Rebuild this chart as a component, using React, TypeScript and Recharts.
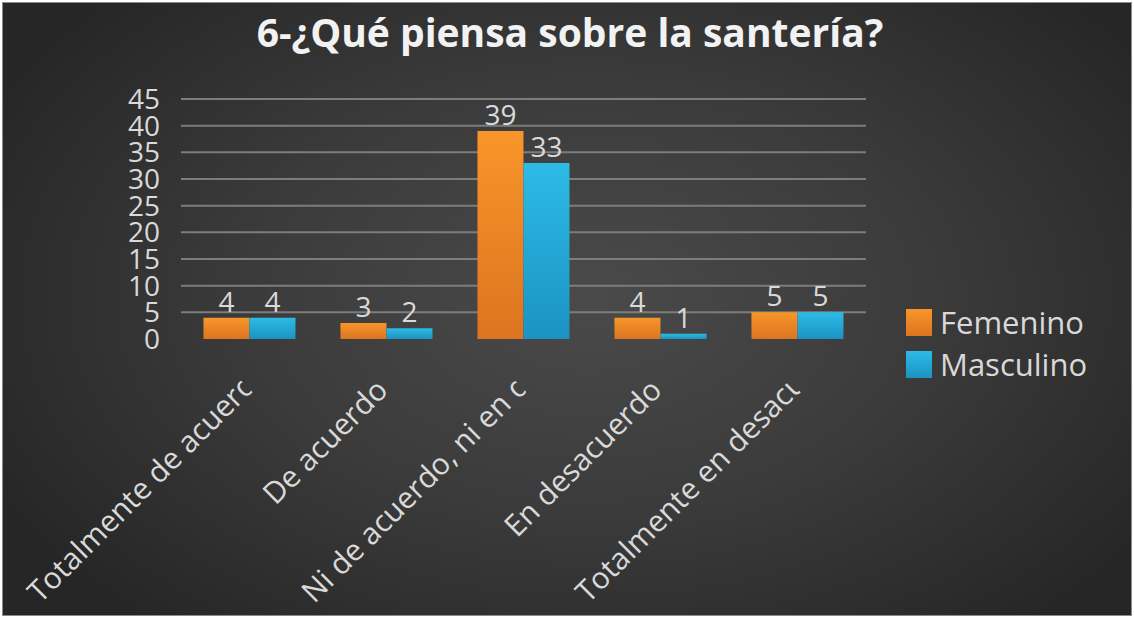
import { BarChart, Bar, XAxis, YAxis, CartesianGrid, LabelList } from "recharts";

const categories = [
  "Totalmente de acuerdo",
  "De acuerdo",
  "Ni de acuerdo, ni en desacuerdo",
  "En desacuerdo",
  "Totalmente en desacuerdo",
];
const femenino = [4, 3, 39, 4, 5];
const masculino = [4, 2, 33, 1, 5];
const yTicks = [0, 5, 10, 15, 20, 25, 30, 35, 40, 45];

const series = [
  { key: "femenino", name: "Femenino", top: "#f8962a", bottom: "#dc7420" },
  { key: "masculino", name: "Masculino", top: "#2dbbe6", bottom: "#1b93c2" },
];

const data = categories.map((c, i) => ({ name: c, femenino: femenino[i], masculino: masculino[i] }));

const FONT = '"Open Sans", "Noto Sans", sans-serif';
const TEXT = "#d9d9d9";
const FS = 28;
const XFS = 30;
const LABEL_MAX = 300; // longest the rotated category label may get before it is cut

let ctx: CanvasRenderingContext2D | null = null;
function textWidth(s: string) {
  if (!ctx) ctx = document.createElement("canvas").getContext("2d");
  if (!ctx) return s.length * XFS * 0.55;
  ctx.font = `${XFS}px "Open Sans"`;
  return ctx.measureText(s).width;
}

function CategoryTick(props: any) {
  const { x, y, payload, index } = props;
  const label = String(payload.value);
  const fits = textWidth(label) <= LABEL_MAX;
  const id = `xclip-${index}`;
  return (
    <g transform={`translate(${x + 3},${y + 45}) rotate(-45)`}>
      <defs>
        <clipPath id={id}>
          <rect x={-LABEL_MAX} y={-40} width={LABEL_MAX} height={60} />
        </clipPath>
      </defs>
      <text
        x={fits ? 0 : -LABEL_MAX}
        y={0}
        textAnchor={fits ? "end" : "start"}
        fill={TEXT}
        fontSize={XFS}
        fontFamily={FONT}
        clipPath={`url(#${id})`}
      >
        {label}
      </text>
    </g>
  );
}

export default function App() {
  return (
    <div style={{ position: "absolute", left: 0, top: 0, width: 1134, height: 618, background: "#ffffff" }}>
      <div
        style={{
          position: "absolute",
          left: 2,
          top: 2,
          width: 1128,
          height: 612,
          border: "1px solid #8a8a8a",
          background: "radial-gradient(ellipse 60% 70% at 52% 48%, #4a4a4a 0%, #3b3b3b 50%, #262626 100%)",
          overflow: "hidden",
        }}
      >
        <div
          style={{
            position: "absolute",
            left: 0,
            top: 2,
            width: 1134,
            textAlign: "center",
            color: "#f2f2f2",
            fontFamily: FONT,
            fontWeight: 700,
            fontSize: 39,
          }}
        >
          6-¿Qué piensa sobre la santería?
        </div>

        <div style={{ position: "absolute", left: -3, top: -3 }}>
          <BarChart
            width={1134}
            height={618}
            data={data}
            margin={{ top: 99, right: 268, bottom: 9, left: 81 }}
            barCategoryGap="16.4%"
            barGap={0}
          >
            <defs>
              {series.map((s) => (
                <linearGradient key={s.key} id={`grad-${s.key}`} x1="0" y1="0" x2="0" y2="1">
                  <stop offset="0%" stopColor={s.top} />
                  <stop offset="100%" stopColor={s.bottom} />
                </linearGradient>
              ))}
            </defs>
            <CartesianGrid
              vertical={false}
              stroke="#7d7d7d"
              strokeWidth={2}
              horizontalValues={yTicks.filter((t) => t > 0)}
            />
            <XAxis
              dataKey="name"
              height={270}
              axisLine={false}
              tickLine={false}
              interval={0}
              tick={<CategoryTick />}
            />
            <YAxis
              width={100}
              domain={[0, 45]}
              ticks={yTicks}
              interval={0}
              axisLine={false}
              tickLine={false}
              tickSize={0}
              tickMargin={21}
              tick={{ fill: TEXT, fontSize: FS, fontFamily: FONT }}
            />
            {series.map((s) => (
              <Bar key={s.key} dataKey={s.key} name={s.name} fill={`url(#grad-${s.key})`} isAnimationActive={false}>
                <LabelList
                  dataKey={s.key}
                  position="top"
                  offset={6}
                  fill={TEXT}
                  fontSize={FS}
                  fontFamily={FONT}
                />
              </Bar>
            ))}
          </BarChart>
        </div>

        <div style={{ position: "absolute", left: 903, top: 298, fontFamily: FONT, fontSize: 31, color: TEXT }}>
          {series.map((s) => (
            <div key={s.key} style={{ display: "flex", alignItems: "center", height: 42 }}>
              <div
                style={{
                  width: 26,
                  height: 27,
                  marginRight: 8,
                  background: `linear-gradient(${s.top}, ${s.bottom})`,
                }}
              />
              <span>{s.name}</span>
            </div>
          ))}
        </div>
      </div>
    </div>
  );
}
